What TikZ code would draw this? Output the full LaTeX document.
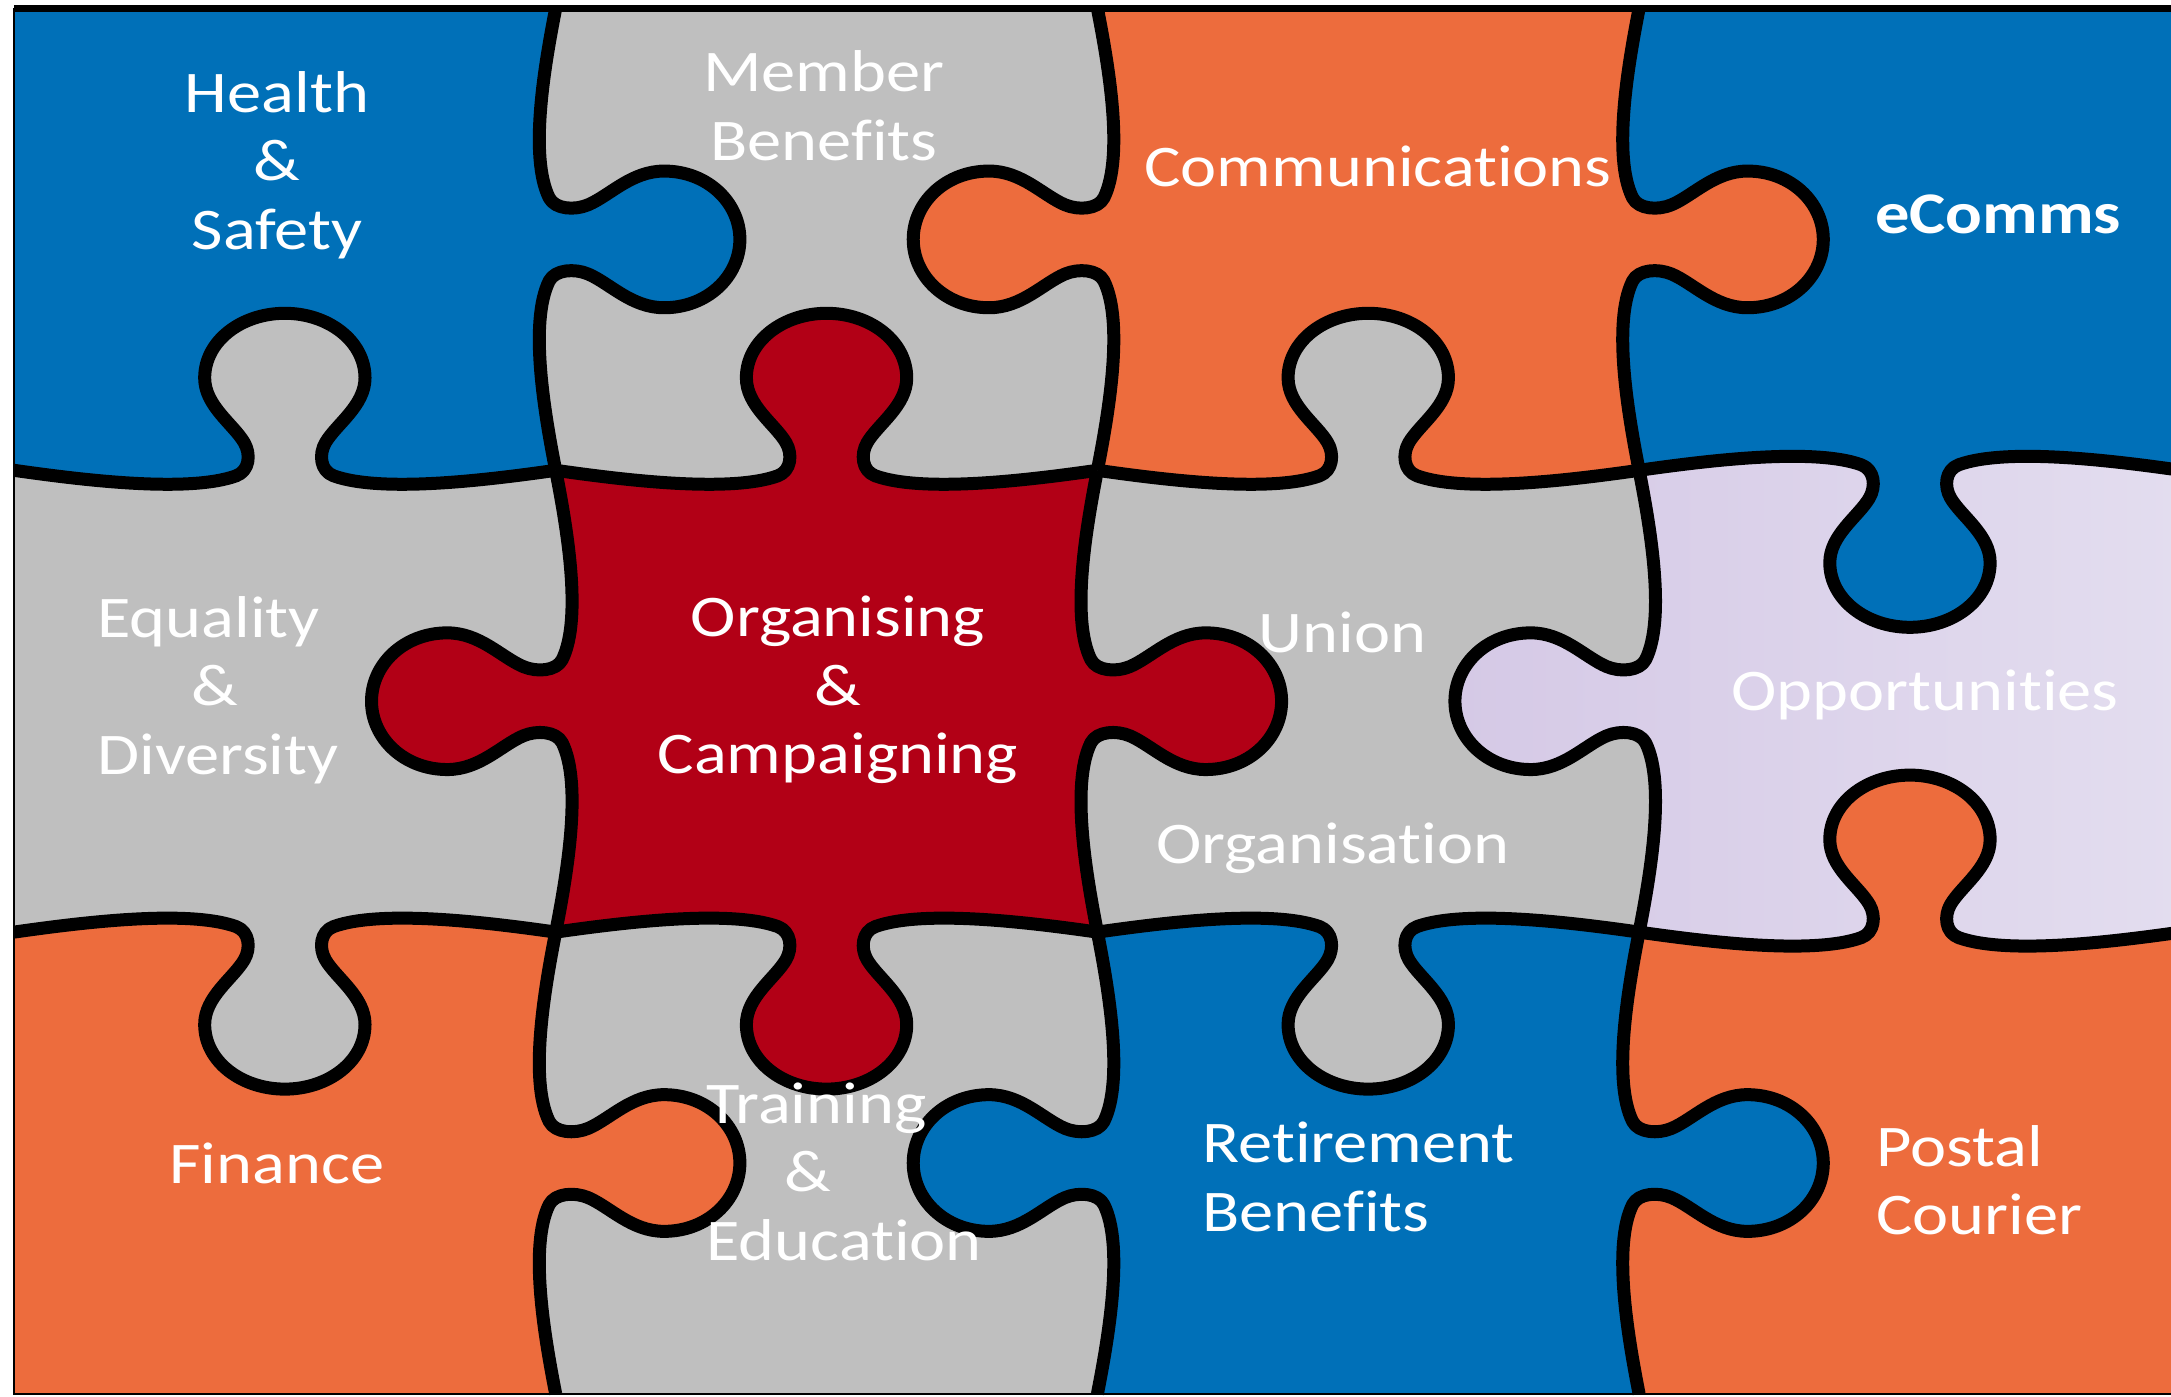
\documentclass[tikz,border=0pt]{standalone}
\usepackage{fontspec}
\setmainfont{Carlito}[FakeStretch=1.16, Ligatures=NoCommon]

\definecolor{pieceblue}{RGB}{0,112,184}
\definecolor{piecegray}{RGB}{191,191,191}
\definecolor{pieceorange}{RGB}{237,108,61}
\definecolor{piecered}{RGB}{178,0,22}
\definecolor{lilacleft}{RGB}{213,201,230}
\definecolor{lilacright}{RGB}{227,221,239}

\tikzset{
	seam/.style={line width=6.5pt, line join=round},
	piecetext/.style={text=white, align=center, inner sep=0pt, font=\fontsize{29.5pt}{34.3pt}\selectfont}
}

%knob point: #1 along the edge, #2 across it
\newcommand\kq[2]{({(\kx)+(#1)*(\ka)+(#2)*(\kc)},{(\ky)+(#1)*(\kb)+(#2)*(\kd)})}
%knobbed edge from (#1,#2) along (#3,#4), knob towards (#5,#6)
\newcommand\kedge[6]{%
	\def\kx{#1}\def\ky{#2}\def\ka{#3}\def\kb{#4}\def\kc{#5}\def\kd{#6}%
	\xdef\piecepath{\piecepath
		.. controls \kq{0.12}{-0.02} and \kq{0.32}{-0.05} .. \kq{0.41}{-0.012}
		.. controls \kq{0.435}{-0.001} and \kq{0.4375}{0.035} .. \kq{0.425}{0.06}
		.. controls \kq{0.405}{0.1} and \kq{0.352}{0.14} .. \kq{0.352}{0.2}
		.. controls \kq{0.352}{0.28} and \kq{0.42}{0.34} .. \kq{0.5}{0.34}
		.. controls \kq{0.58}{0.34} and \kq{0.648}{0.28} .. \kq{0.648}{0.2}
		.. controls \kq{0.648}{0.14} and \kq{0.595}{0.1} .. \kq{0.575}{0.06}
		.. controls \kq{0.5625}{0.035} and \kq{0.565}{-0.001} .. \kq{0.59}{-0.012}
		.. controls \kq{0.68}{-0.05} and \kq{0.88}{-0.02} .. \kq{1}{0}}%
}
%piece at column #1, row #2; knobs top, right, bottom, left (0 = flat)
\newcommand\piece[7]{%
	\xdef\piecepath{(#1,#2)}%
	\ifnum#3=0 \xdef\piecepath{\piecepath -- ({#1+1},#2)}\else\kedge{#1}{#2}{1}{0}{0}{#3}\fi
	\ifnum#4=0 \xdef\piecepath{\piecepath -- ({#1+1},{#2+1})}\else\kedge{#1+1}{#2}{0}{1}{#4}{0}\fi
	\ifnum#5=0 \xdef\piecepath{\piecepath -- (#1,{#2+1})}\else\kedge{#1+1}{#2+1}{-1}{0}{0}{#5}\fi
	\ifnum#6=0 \else\kedge{#1}{#2+1}{0}{-1}{#6}{0}\fi
	\path[#7] \piecepath -- cycle;
}
\newcommand\seam[6]{%
	\xdef\piecepath{(#1,#2)}\kedge{#1}{#2}{#3}{#4}{#5}{#6}%
	\draw[seam] \piecepath;
}

\begin{document}
\begin{tikzpicture}[x=270.85pt, y=-230.9pt]
	\useasboundingbox (-0.02584,-0.01841) rectangle (3.98191,3.00455);
	\clip (-0.02584,-0.01841) rectangle (3.98191,3.00455);
	%Pieces
	\piece{0}{0}{0}{1}{-1}{0}{fill=pieceblue}
	\piece{1}{0}{0}{-1}{-1}{1}{fill=piecegray}
	\piece{2}{0}{0}{1}{-1}{-1}{fill=pieceorange}
	\piece{3}{0}{0}{0}{1}{1}{fill=pieceblue}
	\piece{0}{1}{-1}{-1}{1}{0}{fill=piecegray}
	\piece{1}{1}{-1}{1}{1}{-1}{fill=piecered}
	\piece{2}{1}{-1}{-1}{1}{1}{fill=piecegray}
	\piece{3}{1}{1}{0}{-1}{-1}{left color=lilacleft, right color=lilacright}
	\piece{0}{2}{1}{1}{0}{0}{fill=pieceorange}
	\piece{1}{2}{1}{-1}{0}{1}{fill=piecegray}
	\piece{2}{2}{1}{1}{0}{-1}{fill=pieceblue}
	\piece{3}{2}{-1}{0}{0}{1}{fill=pieceorange}
	%Seams
	\foreach \c/\s in {0/-1,1/-1,2/-1,3/1} {\seam{\c}{1}{1}{0}{0}{\s}}
	\foreach \c/\s in {0/1,1/1,2/1,3/-1} {\seam{\c}{2}{1}{0}{0}{\s}}
	\foreach \r/\s in {0/1,1/-1,2/1} {\seam{1}{\r}{0}{1}{\s}{0}}
	\foreach \r/\s in {0/-1,1/1,2/-1} {\seam{2}{\r}{0}{1}{\s}{0}}
	\foreach \r/\s in {0/1,1/-1,2/1} {\seam{3}{\r}{0}{1}{\s}{0}}
	%Frame
	\draw[line width=1pt] (0,0) -- (0,3) -- (4,3);
	\draw[line width=3.5pt] (0,0) -- (4,0);
	%Labels
	\node[piecetext] (health) at (0.4855,0.339) {Health\\\&\\Safety};
	\node[piecetext] (member) at (1.495,0.211) {Member\\Benefits};
	\node[piecetext] (comms) at (2.518,0.341) {Communications};
	\node[piecetext, font=\fontsize{29.5pt}{34.3pt}\selectfont\bfseries] (ecomms) at (3.663,0.445) {eComms};
	\node[piecetext, align=left, anchor=west] (equality) at (0.153,1.476) {Equality\\\hspace{47pt}\&\\Diversity};
	\node[piecetext] (organising) at (1.521,1.476) {Organising\\\&\\Campaigning};
	\node[piecetext] (union) at (2.453,1.352) {Union};
	\node[piecetext] (organisation) at (2.435,1.818) {Organisation};
	\node[piecetext] (opportunities) at (3.528,1.487) {Opportunities};
	\node[piecetext] (finance) at (0.4855,2.5) {Finance};
	\node[piecetext, align=left, anchor=west] (training) at (1.2775,2.519) {Training\\\hspace{39pt}\&\\Education};
	\node[piecetext, align=left, anchor=west] (retirement) at (2.193,2.53) {Retirement\\Benefits};
	\node[piecetext, align=left, anchor=west] (postal) at (3.437,2.537) {Postal\\Courier};
\end{tikzpicture}
\end{document}
